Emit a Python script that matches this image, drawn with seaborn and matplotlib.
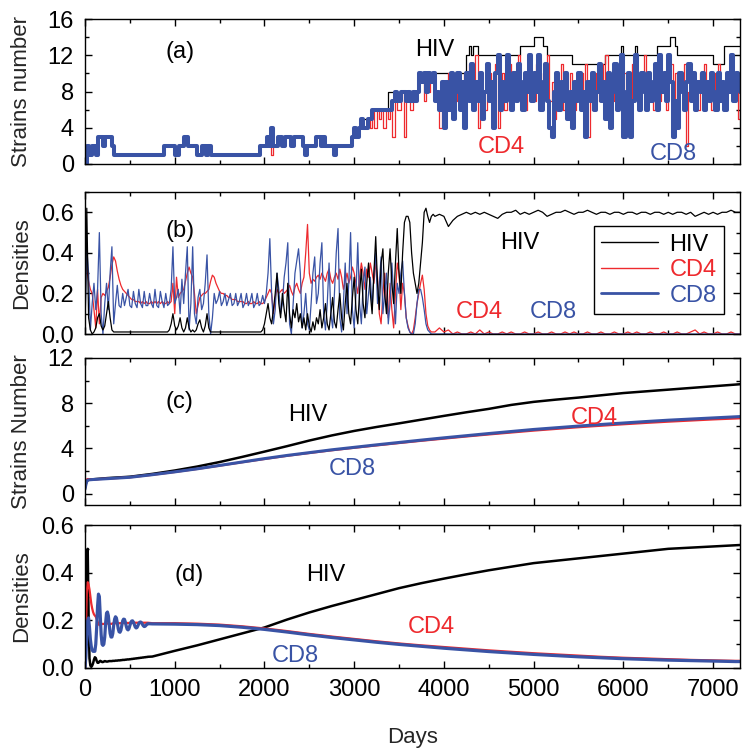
import numpy as np
import pandas as pd
import matplotlib
matplotlib.use("Agg")
import matplotlib.pyplot as plt
from matplotlib.lines import Line2D
from matplotlib.ticker import MultipleLocator, FormatStrFormatter
import seaborn as sns

sns.set_style("ticks")
plt.rcParams["font.family"] = ["Liberation Sans", "DejaVu Sans"]

RED = "#ee2a2e"
BLUE = "#3953a5"
BLACK = "#000000"

series_names = ["HIV", "CD4", "CD8"]

# ---------------- panel (a): strains number (25-day sampling) ----------------
a_days = np.arange(0, 7301, 25)
a_cd8 = [0, 2, 1, 2, 2, 1, 3, 3, 2, 3, 3, 3, 2, 1, 1, 1, 1, 1, 1, 1,
         1, 1, 1, 1, 1, 1, 1, 1, 1, 1, 1, 1, 1, 1, 1, 2, 2, 2, 2, 2,
         1, 1, 2, 2, 3, 3, 2, 2, 2, 2, 1, 1, 2, 2, 1, 2, 1, 1, 1, 1,
         1, 1, 1, 1, 1, 1, 1, 1, 1, 1, 1, 1, 1, 1, 1, 1, 1, 1, 2, 2,
         2, 3, 2, 4, 2, 2, 3, 3, 2, 3, 3, 3, 2, 3, 3, 3, 3, 2, 1, 2,
         2, 2, 2, 3, 3, 2, 3, 2, 2, 2, 2, 1, 2, 2, 2, 2, 2, 2, 2, 3,
         4, 3, 4, 5, 4, 4, 5, 5, 6, 6, 6, 6, 6, 6, 6, 6, 6, 7, 8, 7,
         7, 8, 8, 7, 8, 7, 8, 7, 8, 10, 9, 10, 8, 10, 9, 10, 7, 8, 6, 9,
         4, 9, 6, 10, 5, 8, 10, 6, 9, 4, 10, 7, 11, 6, 9, 7, 10, 5, 8, 11,
         7, 9, 4, 10, 12, 6, 9, 7, 12, 8, 6, 10, 7, 11, 9, 6, 10, 8, 12, 7,
         10, 8, 12, 6, 9, 11, 7, 4, 3, 8, 10, 6, 9, 7, 10, 5, 8, 4, 9, 7,
         10, 6, 8, 3, 9, 7, 10, 6, 8, 11, 7, 9, 5, 10, 4, 8, 11, 6, 9, 12,
         3, 8, 10, 3, 7, 12, 9, 6, 10, 8, 6, 10, 7, 9, 11, 6, 12, 8, 10, 7,
         12, 9, 3, 7, 4, 10, 8, 6, 9, 11, 7, 10, 6, 9, 8, 10, 6, 9, 7, 10,
         8, 6, 10, 7, 9, 6, 10, 8, 12, 7, 10, 9, 8]
a_cd4 = [0, 2, 1, 2, 2, 1, 3, 3, 2, 3, 3, 3, 2, 1, 1, 1, 1, 1, 1, 1,
         1, 1, 1, 1, 1, 1, 1, 1, 1, 1, 1, 1, 1, 1, 1, 2, 2, 2, 2, 2,
         1, 1, 2, 2, 3, 3, 2, 2, 2, 2, 1, 1, 2, 2, 1, 2, 1, 1, 1, 1,
         1, 1, 1, 1, 1, 1, 1, 1, 1, 1, 1, 1, 1, 1, 1, 1, 1, 1, 2, 2,
         2, 3, 2, 1, 2, 2, 3, 3, 2, 3, 3, 3, 2, 3, 3, 3, 3, 2, 1, 2,
         2, 2, 2, 3, 3, 2, 3, 2, 2, 2, 2, 1, 2, 2, 2, 2, 2, 2, 2, 3,
         4, 3, 4, 5, 4, 4, 5, 4, 6, 4, 6, 5, 6, 4, 6, 5, 6, 3, 8, 6,
         6, 8, 3, 7, 8, 6, 7, 7, 8, 9, 10, 7, 9, 8, 10, 9, 8, 7, 4, 8,
         9, 6, 10, 8, 5, 9, 7, 9, 6, 10, 8, 11, 9, 7, 12, 4, 10, 8, 6, 9,
         10, 7, 9, 11, 4, 8, 10, 6, 9, 11, 7, 10, 8, 12, 7, 9, 6, 10, 12, 8,
         7, 11, 9, 6, 10, 8, 12, 7, 9, 5, 10, 8, 11, 6, 9, 7, 10, 8, 6, 9,
         8, 10, 7, 11, 3, 9, 6, 10, 8, 7, 11, 9, 12, 8, 6, 10, 7, 9, 11, 8,
         10, 6, 9, 7, 11, 8, 10, 6, 9, 12, 7, 10, 8, 6, 11, 9, 7, 10, 8, 6,
         9, 11, 7, 10, 6, 8, 9, 11, 2, 8, 10, 7, 9, 6, 10, 8, 11, 7, 9, 6,
         10, 8, 11, 7, 9, 6, 10, 8, 12, 7, 9, 5, 8]
a_hiv = [0, 2, 1, 2, 2, 1, 3, 3, 2, 3, 3, 3, 2, 1, 1, 1, 1, 1, 1, 1,
         1, 1, 1, 1, 1, 1, 1, 1, 1, 1, 1, 1, 1, 1, 1, 2, 2, 2, 2, 2,
         1, 1, 2, 2, 3, 3, 2, 2, 2, 2, 1, 1, 2, 2, 1, 2, 1, 1, 1, 1,
         1, 1, 1, 1, 1, 1, 1, 1, 1, 1, 1, 1, 1, 1, 1, 1, 1, 1, 2, 2,
         2, 3, 2, 4, 2, 2, 3, 3, 2, 3, 3, 3, 2, 3, 3, 3, 3, 2, 1, 2,
         2, 2, 2, 3, 3, 2, 3, 2, 2, 2, 2, 1, 2, 2, 2, 2, 2, 2, 2, 3,
         4, 4, 4, 5, 5, 5, 5, 5, 6, 6, 6, 6, 6, 6, 6, 8, 8, 8, 8, 8,
         8, 8, 8, 8, 8, 8, 8, 8, 8, 10, 10, 10, 10, 10, 10, 10, 10, 10, 10, 10,
         10, 10, 10, 10, 10, 10, 10, 10, 10, 10, 12, 13, 12, 13, 13, 12, 12, 12, 12, 12,
         12, 12, 12, 12, 12, 12, 12, 12, 12, 12, 12, 12, 12, 12, 13, 13, 13, 13, 13, 13,
         14, 14, 14, 14, 13, 13, 12, 12, 12, 12, 12, 12, 12, 12, 12, 12, 12, 11, 11, 11,
         11, 11, 11, 11, 11, 11, 11, 11, 11, 11, 11, 11, 12, 12, 12, 12, 12, 12, 12, 13,
         12, 12, 12, 12, 12, 13, 12, 12, 12, 12, 12, 12, 12, 12, 12, 13, 13, 13, 13, 13,
         13, 14, 14, 13, 12, 12, 12, 12, 12, 12, 12, 12, 12, 12, 12, 12, 12, 12, 12, 12,
         11, 11, 11, 11, 11, 13, 13, 13, 13, 13, 13, 13, 13]

# ---------------- panel (b): densities of one run ----------------
b_days = np.concatenate([np.arange(0, 3900, 20), np.arange(3900, 7301, 50)])
b_cd8 = [0.05, 0.42, 0.30, 0.02, 0.15, 0.25, 0.12, 0.22, 0.50, 0.10,
         0.00, 0.15, 0.25, 0.12, 0.30, 0.43, 0.05, 0.15, 0.24, 0.14,
         0.13, 0.20, 0.14, 0.18, 0.22, 0.14, 0.13, 0.21, 0.15, 0.13,
         0.22, 0.15, 0.13, 0.21, 0.14, 0.14, 0.20, 0.15, 0.13, 0.22,
         0.14, 0.13, 0.21, 0.16, 0.13, 0.20, 0.14, 0.15, 0.22, 0.43,
         0.15, 0.18, 0.22, 0.10, 0.27, 0.15, 0.30, 0.43, 0.02, 0.15,
         0.43, 0.10, 0.05, 0.18, 0.22, 0.12, 0.15, 0.25, 0.39, 0.10,
         0.00, 0.08, 0.20, 0.15, 0.17, 0.21, 0.14, 0.16, 0.20, 0.14,
         0.17, 0.20, 0.14, 0.15, 0.20, 0.14, 0.16, 0.20, 0.13, 0.15,
         0.20, 0.14, 0.16, 0.20, 0.13, 0.15, 0.20, 0.14, 0.15, 0.19,
         0.15, 0.20, 0.30, 0.47, 0.20, 0.05, 0.12, 0.30, 0.22, 0.10,
         0.15, 0.28, 0.35, 0.45, 0.05, 0.00, 0.15, 0.30, 0.36, 0.42,
         0.30, 0.03, 0.10, 0.20, 0.05, 0.02, 0.15, 0.30, 0.38, 0.15,
         0.20, 0.35, 0.45, 0.10, 0.02, 0.15, 0.35, 0.10, 0.03, 0.20,
         0.40, 0.52, 0.08, 0.01, 0.15, 0.35, 0.10, 0.25, 0.50, 0.12,
         0.03, 0.20, 0.45, 0.15, 0.05, 0.25, 0.33, 0.10, 0.20, 0.28,
         0.12, 0.30, 0.40, 0.15, 0.25, 0.38, 0.10, 0.20, 0.30, 0.05,
         0.15, 0.35, 0.20, 0.05, 0.25, 0.20, 0.30, 0.36, 0.20, 0.08,
         0.03, 0.01, 0.00, 0.00, 0.05, 0.15, 0.22, 0.22, 0.18, 0.12,
         0.05, 0.02, 0.01, 0.00, 0.00,
         0.00, 0.00, 0.00, 0.00, 0.00, 0.00, 0.00, 0.00, 0.00, 0.00,
         0.00, 0.00, 0.00, 0.00, 0.00, 0.00, 0.00, 0.00, 0.00, 0.00,
         0.00, 0.00, 0.00, 0.00, 0.00, 0.00, 0.00, 0.00, 0.00, 0.00,
         0.00, 0.00, 0.00, 0.00, 0.00, 0.00, 0.00, 0.00, 0.00, 0.00,
         0.00, 0.00, 0.00, 0.00, 0.00, 0.00, 0.00, 0.00, 0.00, 0.00,
         0.00, 0.00, 0.00, 0.00, 0.00, 0.00, 0.00, 0.00, 0.00, 0.00,
         0.00, 0.00, 0.00, 0.00, 0.00, 0.00, 0.00, 0.00, 0.00]
b_cd4 = [0.43, 0.32, 0.26, 0.22, 0.20, 0.12, 0.03, 0.22, 0.05, 0.18,
         0.20, 0.19, 0.21, 0.23, 0.28, 0.34, 0.38, 0.36, 0.31, 0.27,
         0.24, 0.22, 0.21, 0.20, 0.19, 0.18, 0.17, 0.17, 0.16, 0.16,
         0.16, 0.15, 0.16, 0.15, 0.16, 0.15, 0.15, 0.16, 0.15, 0.16,
         0.15, 0.16, 0.15, 0.16, 0.15, 0.15, 0.16, 0.15, 0.16, 0.25,
         0.10, 0.28, 0.18, 0.20, 0.21, 0.22, 0.26, 0.30, 0.33, 0.30,
         0.28, 0.20, 0.10, 0.14, 0.18, 0.19, 0.20, 0.20, 0.21, 0.22,
         0.26, 0.29, 0.28, 0.25, 0.23, 0.21, 0.20, 0.20, 0.19, 0.19,
         0.18, 0.18, 0.17, 0.17, 0.17, 0.16, 0.16, 0.16, 0.16, 0.15,
         0.15, 0.16, 0.15, 0.15, 0.16, 0.15, 0.15, 0.16, 0.15, 0.15,
         0.16, 0.18, 0.20, 0.22, 0.20, 0.10, 0.18, 0.22, 0.20, 0.21,
         0.22, 0.20, 0.21, 0.22, 0.24, 0.21, 0.19, 0.23, 0.25, 0.22,
         0.20, 0.25, 0.28, 0.40, 0.54, 0.30, 0.25, 0.27, 0.26, 0.28,
         0.29, 0.27, 0.30, 0.28, 0.26, 0.30, 0.32, 0.27, 0.25, 0.28,
         0.30, 0.27, 0.32, 0.28, 0.22, 0.26, 0.30, 0.25, 0.28, 0.33,
         0.30, 0.25, 0.20, 0.28, 0.35, 0.30, 0.22, 0.32, 0.28, 0.35,
         0.30, 0.25, 0.35, 0.28, 0.10, 0.05, 0.20, 0.30, 0.15, 0.08,
         0.25, 0.12, 0.03, 0.20, 0.35, 0.30, 0.12, 0.25, 0.20, 0.08,
         0.04, 0.01, 0.00, 0.02, 0.08, 0.15, 0.20, 0.25, 0.29, 0.22,
         0.10, 0.04, 0.02, 0.01, 0.01,
         0.01, 0.03, 0.01, 0.02, 0.00, 0.01, 0.00, 0.00, 0.01, 0.00,
         0.02, 0.00, 0.01, 0.00, 0.00, 0.01, 0.00, 0.01, 0.00, 0.00,
         0.01, 0.00, 0.00, 0.01, 0.00, 0.00, 0.01, 0.00, 0.00, 0.01,
         0.00, 0.01, 0.00, 0.00, 0.01, 0.00, 0.00, 0.01, 0.00, 0.00,
         0.01, 0.00, 0.00, 0.01, 0.00, 0.01, 0.00, 0.00, 0.01, 0.00,
         0.00, 0.01, 0.00, 0.00, 0.01, 0.00, 0.00, 0.01, 0.02, 0.00,
         0.01, 0.00, 0.00, 0.01, 0.00, 0.00, 0.01, 0.00, 0.00]
b_hiv = [0.00, 0.62, 0.08, 0.02, 0.00, 0.01, 0.03, 0.08, 0.10, 0.04,
         0.02, 0.04, 0.10, 0.16, 0.08, 0.02, 0.01, 0.01, 0.01, 0.01,
         0.01, 0.01, 0.01, 0.01, 0.01, 0.01, 0.01, 0.01, 0.01, 0.01,
         0.01, 0.01, 0.01, 0.01, 0.01, 0.01, 0.01, 0.01, 0.01, 0.01,
         0.01, 0.01, 0.01, 0.01, 0.01, 0.01, 0.01, 0.02, 0.05, 0.10,
         0.04, 0.02, 0.04, 0.08, 0.03, 0.01, 0.03, 0.08, 0.03, 0.01,
         0.02, 0.01, 0.02, 0.05, 0.07, 0.03, 0.01, 0.04, 0.10, 0.03,
         0.01, 0.01, 0.01, 0.01, 0.01, 0.01, 0.01, 0.01, 0.01, 0.01,
         0.01, 0.01, 0.01, 0.01, 0.01, 0.01, 0.01, 0.01, 0.01, 0.01,
         0.01, 0.01, 0.01, 0.01, 0.01, 0.01, 0.01, 0.01, 0.01, 0.02,
         0.05, 0.10, 0.15, 0.08, 0.05, 0.12, 0.20, 0.30, 0.15, 0.08,
         0.20, 0.12, 0.06, 0.25, 0.10, 0.03, 0.12, 0.08, 0.15, 0.06,
         0.10, 0.03, 0.08, 0.02, 0.10, 0.04, 0.01, 0.06, 0.02, 0.08,
         0.05, 0.12, 0.03, 0.08, 0.15, 0.05, 0.02, 0.10, 0.18, 0.06,
         0.03, 0.12, 0.20, 0.08, 0.02, 0.15, 0.25, 0.10, 0.05, 0.18,
         0.28, 0.12, 0.05, 0.20, 0.32, 0.15, 0.08, 0.25, 0.35, 0.20,
         0.10, 0.30, 0.48, 0.25, 0.12, 0.35, 0.42, 0.20, 0.10, 0.30,
         0.42, 0.25, 0.15, 0.35, 0.52, 0.30, 0.20, 0.40, 0.55, 0.58,
         0.58, 0.55, 0.40, 0.30, 0.25, 0.20, 0.25, 0.35, 0.45, 0.60,
         0.62, 0.58, 0.55, 0.58, 0.59,
         0.58, 0.59, 0.58, 0.53, 0.56, 0.58, 0.59, 0.60, 0.59, 0.60,
         0.59, 0.60, 0.59, 0.58, 0.57, 0.59, 0.60, 0.60, 0.61, 0.59,
         0.60, 0.59, 0.60, 0.61, 0.60, 0.58, 0.59, 0.60, 0.60, 0.61,
         0.60, 0.59, 0.60, 0.60, 0.61, 0.60, 0.59, 0.60, 0.60, 0.59,
         0.60, 0.60, 0.59, 0.60, 0.60, 0.59, 0.60, 0.60, 0.59, 0.60,
         0.60, 0.59, 0.60, 0.59, 0.60, 0.60, 0.59, 0.60, 0.58, 0.59,
         0.60, 0.59, 0.60, 0.59, 0.60, 0.60, 0.61, 0.60, 0.60]

# ---------------- panel (c): averaged strains number ----------------
c_days = np.concatenate([[0, 10, 20, 30, 50, 100], np.arange(250, 7300, 250), [7300]])
c_hiv = [0.5, 0.9, 1.1, 1.2, 1.25, 1.28,
         1.38, 1.5, 1.75, 2.05, 2.4, 2.8, 3.25, 3.72, 4.2, 4.7, 5.15, 5.55, 5.9, 6.22,
         6.55, 6.88, 7.2, 7.5, 7.85, 8.12, 8.32, 8.5, 8.7, 8.9, 9.05, 9.2, 9.35, 9.5, 9.65,
         9.68]
c_cd4 = [0.6, 1.05, 1.25, 1.3, 1.27, 1.27,
         1.33, 1.45, 1.67, 1.92, 2.19, 2.48, 2.78, 3.07, 3.35, 3.6, 3.84, 4.06, 4.27, 4.48,
         4.68, 4.87, 5.06, 5.24, 5.41, 5.58, 5.73, 5.88, 6.01, 6.14, 6.26, 6.37, 6.47, 6.57, 6.65,
         6.67]
c_cd8 = [0.4, 0.8, 1.1, 1.2, 1.23, 1.26,
         1.33, 1.45, 1.68, 1.93, 2.2, 2.5, 2.8, 3.1, 3.38, 3.63, 3.88, 4.1, 4.32, 4.53,
         4.74, 4.94, 5.13, 5.32, 5.5, 5.68, 5.83, 5.98, 6.12, 6.25, 6.38, 6.5, 6.6, 6.7, 6.8,
         6.82]

# ---------------- panel (d): averaged densities ----------------
d_days = np.concatenate([np.arange(0, 701, 10), np.arange(750, 7300, 250), [7300]])
d_hiv = [0.00, 0.15, 0.42, 0.50, 0.22, 0.04, 0.01, 0.005, 0.01, 0.02,
         0.035, 0.045, 0.042, 0.03, 0.022, 0.022, 0.027, 0.03, 0.028, 0.025,
         0.025, 0.027, 0.029, 0.028, 0.027, 0.027, 0.028, 0.029, 0.029, 0.029,
         0.029, 0.03, 0.03, 0.03, 0.031, 0.031, 0.031, 0.032, 0.032, 0.032,
         0.033, 0.033, 0.034, 0.034, 0.034, 0.035, 0.035, 0.036, 0.036, 0.036,
         0.037, 0.037, 0.038, 0.038, 0.039, 0.039, 0.04, 0.04, 0.041, 0.041,
         0.042, 0.042, 0.043, 0.043, 0.044, 0.044, 0.045, 0.045, 0.046, 0.046,
         0.047,
         0.048, 0.072, 0.095, 0.12, 0.145, 0.17, 0.203, 0.233, 0.26, 0.285,
         0.31, 0.335, 0.356, 0.375, 0.393, 0.41, 0.425, 0.44, 0.45, 0.46,
         0.47, 0.48, 0.49, 0.50, 0.505, 0.51, 0.515,
         0.516]
d_cd4 = [0.00, 0.15, 0.32, 0.36, 0.35, 0.33, 0.30, 0.27, 0.25, 0.235,
         0.225, 0.22, 0.215, 0.205, 0.195, 0.185, 0.18, 0.18, 0.182, 0.185,
         0.185, 0.185, 0.184, 0.184, 0.186, 0.187, 0.186, 0.185, 0.185, 0.185,
         0.186, 0.187, 0.187, 0.188, 0.188, 0.187, 0.187, 0.187, 0.188, 0.188,
         0.188, 0.189, 0.189, 0.189, 0.188, 0.188, 0.188, 0.189, 0.189, 0.189,
         0.19, 0.19, 0.19, 0.19, 0.19, 0.19, 0.19, 0.19, 0.19, 0.19,
         0.19, 0.19, 0.19, 0.19, 0.19, 0.19, 0.19, 0.19, 0.19, 0.19,
         0.19,
         0.188, 0.188, 0.186, 0.182, 0.175, 0.166, 0.155, 0.143, 0.132, 0.122,
         0.112, 0.103, 0.095, 0.088, 0.081, 0.074, 0.068, 0.062, 0.057, 0.052,
         0.047, 0.043, 0.04, 0.037, 0.034, 0.032, 0.03,
         0.03]
d_cd8 = [0.00, 0.05, 0.14, 0.20, 0.21, 0.17, 0.12, 0.09, 0.075, 0.07,
         0.07, 0.07, 0.10, 0.17, 0.26, 0.31, 0.30, 0.22, 0.14, 0.10,
         0.095, 0.10, 0.13, 0.19, 0.23, 0.235, 0.22, 0.18, 0.145, 0.13,
         0.13, 0.145, 0.18, 0.205, 0.215, 0.21, 0.19, 0.165, 0.152, 0.15,
         0.158, 0.178, 0.198, 0.205, 0.204, 0.192, 0.175, 0.163, 0.16, 0.165,
         0.178, 0.19, 0.197, 0.198, 0.192, 0.182, 0.172, 0.168, 0.17, 0.178,
         0.187, 0.192, 0.193, 0.19, 0.183, 0.177, 0.174, 0.175, 0.179, 0.183,
         0.186,
         0.185, 0.184, 0.182, 0.178, 0.171, 0.162, 0.151, 0.139, 0.128, 0.118,
         0.108, 0.099, 0.091, 0.083, 0.076, 0.069, 0.063, 0.057, 0.052, 0.047,
         0.043, 0.039, 0.036, 0.033, 0.031, 0.029, 0.027,
         0.027]


def long_frame(days, hiv, cd4, cd8):
    parts = []
    for name, vals in zip(series_names, [hiv, cd4, cd8]):
        parts.append(pd.DataFrame({"day": days, "value": vals, "series": name}))
    return pd.concat(parts, ignore_index=True)


W, H = 742, 753
fig = plt.figure(figsize=(W / 100, H / 100), dpi=100)

L = 85 / W
R = 740 / W
panels_px = [(19, 164), (192, 334), (358, 505), (525, 668)]
axes = []
for top, bot in panels_px:
    axes.append(fig.add_axes([L, 1 - bot / H, R - L, (bot - top) / H]))

colors = {"HIV": BLACK, "CD4": RED, "CD8": BLUE}


def draw(ax, df, widths, order, **kw):
    for name in order:
        sub = df[df["series"] == name]
        sns.lineplot(data=sub, x="day", y="value", ax=ax, color=colors[name],
                     lw=widths[name], estimator=None, errorbar=None, sort=False,
                     legend=False, **kw)


dfa = long_frame(a_days, a_hiv, a_cd4, a_cd8)
draw(axes[0], dfa, {"HIV": 0.9, "CD4": 0.9, "CD8": 2.9}, ["HIV", "CD4", "CD8"],
     drawstyle="steps-post")
dfb = long_frame(b_days, b_hiv, b_cd4, b_cd8)
draw(axes[1], dfb, {"HIV": 0.9, "CD4": 0.9, "CD8": 0.9}, ["CD4", "CD8", "HIV"])
dfc = long_frame(c_days, c_hiv, c_cd4, c_cd8)
draw(axes[2], dfc, {"HIV": 1.8, "CD4": 1.6, "CD8": 2.2}, ["HIV", "CD4", "CD8"])
dfd = long_frame(d_days, d_hiv, d_cd4, d_cd8)
draw(axes[3], dfd, {"HIV": 1.8, "CD4": 1.6, "CD8": 2.3}, ["HIV", "CD4", "CD8"])

ylims = [(0, 16), (0, 0.7), (-1, 12), (0, 0.6)]
ymaj = [4, 0.2, 4, 0.2]
ymin = [2, 0.1, 2, 0.1]
for i, ax in enumerate(axes):
    ax.set_xlim(0, 7300)
    ax.set_ylim(*ylims[i])
    ax.xaxis.set_major_locator(MultipleLocator(1000))
    ax.xaxis.set_minor_locator(MultipleLocator(500))
    ax.yaxis.set_major_locator(MultipleLocator(ymaj[i]))
    ax.yaxis.set_minor_locator(MultipleLocator(ymin[i]))
    if ymaj[i] < 1:
        ax.yaxis.set_major_formatter(FormatStrFormatter("%.1f"))
    ax.tick_params(which="both", direction="in", top=True, right=True, width=1,
                   colors="black")
    ax.tick_params(which="major", length=5, labelsize=17, pad=8)
    ax.tick_params(which="minor", length=3)
    ax.tick_params(axis="x", which="major", pad=8)
    if i < 3:
        ax.tick_params(labelbottom=False)
    for s in ax.spines.values():
        s.set_linewidth(1.0)
        s.set_color("black")
    ax.set_xlabel("")
    ax.set_ylabel("")

# y labels and x label
ylabels = ["Strains number", "Densities", "Strains Number", "Densities"]
for (top, bot), lab in zip(panels_px, ylabels):
    fig.text(22 / W, 1 - (top + bot) / 2 / H, lab, rotation=90, ha="center",
             va="center", fontsize=16)
fig.text((85 + 740) / 2 / W, 1 - 738 / H, "Days", ha="center", va="center", fontsize=16)

TXT = 17
notes = [
    (0, 1054, 12.4, "(a)", BLACK), (0, 3900, 12.6, "HIV", BLACK),
    (0, 4640, 1.9, "CD4", RED), (0, 6560, 1.1, "CD8", BLUE),
    (1, 1054, 0.51, "(b)", BLACK), (1, 4850, 0.45, "HIV", BLACK),
    (1, 4400, 0.11, "CD4", RED), (1, 5217, 0.11, "CD8", BLUE),
    (2, 1050, 8.1, "(c)", BLACK), (2, 2480, 7.0, "HIV", BLACK),
    (2, 5680, 6.7, "CD4", RED), (2, 2978, 2.2, "CD8", BLUE),
    (3, 1165, 0.39, "(d)", BLACK), (3, 2680, 0.39, "HIV", BLACK),
    (3, 3860, 0.17, "CD4", RED), (3, 2340, 0.05, "CD8", BLUE),
]
for i, x, y, s, c in notes:
    axes[i].text(x, y, s, ha="center", va="center", fontsize=TXT, color=c)

handles = [Line2D([], [], color=BLACK, lw=1.0),
           Line2D([], [], color=RED, lw=1.0),
           Line2D([], [], color=BLUE, lw=2.0)]
leg = axes[1].legend(handles, series_names, loc="upper left",
                     bbox_to_anchor=(5673, 0.53), bbox_transform=axes[1].transData,
                     frameon=True, fancybox=False, framealpha=1, edgecolor="black",
                     fontsize=17, handlelength=2.4, borderpad=0.3, labelspacing=0.15,
                     handletextpad=0.5, borderaxespad=0)
leg.get_frame().set_linewidth(1.0)
for t, c in zip(leg.get_texts(), [BLACK, RED, BLUE]):
    t.set_color(c)

fig.savefig("out.png", dpi=100)
